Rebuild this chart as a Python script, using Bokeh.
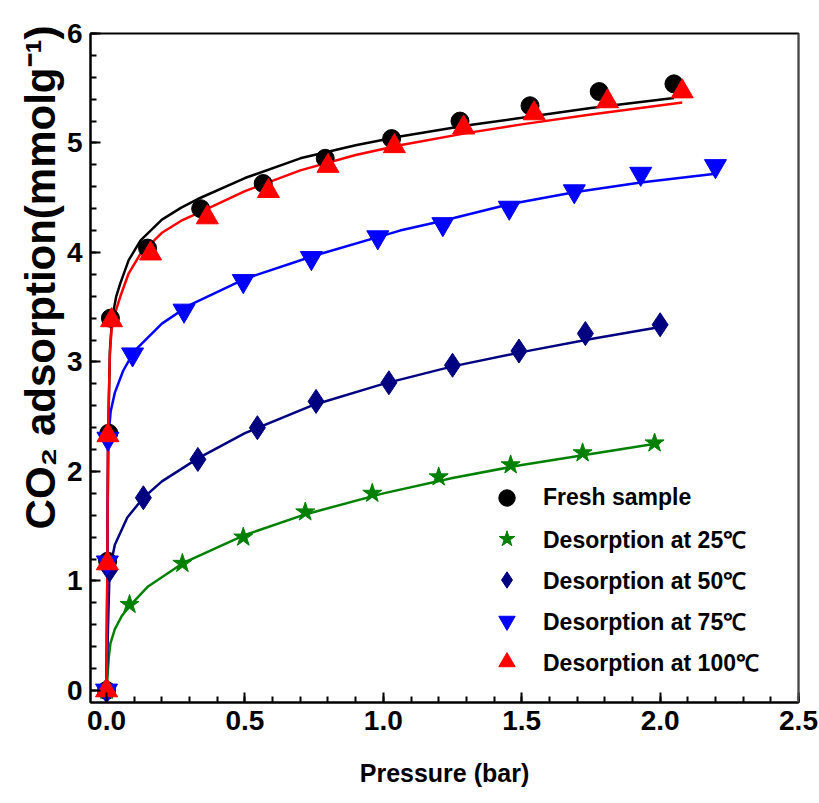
from bokeh.plotting import figure
from bokeh.models import (Range1d, SingleIntervalTicker, PrintfTickFormatter,
                          Legend, LegendItem, Title, Span)
from bokeh.embed import file_html
from bokeh.resources import INLINE

# Measured isotherm points (pressure in bar, uptake in mmol/g)
fresh_p = [0.0, 0.004, 0.008, 0.014, 0.148, 0.34, 0.566, 0.79, 1.03, 1.277, 1.53, 1.78, 2.05]
fresh_q = [0.0, 1.18, 2.35, 3.40, 4.04, 4.40, 4.63, 4.86, 5.04, 5.20, 5.34, 5.47, 5.54]

d25_p = [0.0, 0.083, 0.274, 0.494, 0.718, 0.96, 1.20, 1.46, 1.72, 1.98]
d25_q = [0.0, 0.785, 1.16, 1.40, 1.63, 1.80, 1.95, 2.06, 2.17, 2.26]

d50_p = [0.0, 0.011, 0.133, 0.33, 0.545, 0.757, 1.02, 1.25, 1.49, 1.73, 2.0]
d50_q = [0.0, 1.10, 1.76, 2.11, 2.40, 2.64, 2.81, 2.97, 3.10, 3.26, 3.34]

d75_p = [0.0, 0.003, 0.005, 0.094, 0.28, 0.494, 0.74, 0.98, 1.215, 1.455, 1.69, 1.93, 2.20]
d75_q = [0.0, 1.17, 2.30, 3.07, 3.47, 3.74, 3.95, 4.14, 4.26, 4.41, 4.56, 4.72, 4.79]

d100_p = [0.0, 0.003, 0.005, 0.018, 0.159, 0.364, 0.585, 0.80, 1.04, 1.29, 1.545, 1.81, 2.08]
d100_q = [0.0, 1.16, 2.33, 3.38, 3.99, 4.32, 4.56, 4.79, 4.97, 5.14, 5.27, 5.38, 5.47]

# Fitted isotherm curves
fresh_fit_p = [0.0, 0.003, 0.006, 0.012, 0.02, 0.035, 0.05, 0.08, 0.123, 0.2, 0.27, 0.34, 0.5, 0.7, 0.9, 1.06, 1.3, 1.5, 1.75, 2.05]
fresh_fit_q = [0.0, 1.2, 2.35, 3.1, 3.4, 3.6, 3.72, 3.93, 4.11, 4.30, 4.41, 4.50, 4.68, 4.86, 4.98, 5.06, 5.16, 5.23, 5.32, 5.41]

d25_fit_p = [0.0, 0.004, 0.008, 0.014, 0.03, 0.055, 0.083, 0.15, 0.274, 0.5, 0.72, 1.0, 1.25, 1.5, 1.75, 2.0]
d25_fit_q = [0.0, 0.15, 0.3, 0.43, 0.56, 0.68, 0.77, 0.95, 1.16, 1.42, 1.61, 1.80, 1.94, 2.06, 2.16, 2.26]

d50_fit_p = [0.0, 0.005, 0.011, 0.03, 0.075, 0.133, 0.2, 0.33, 0.5, 0.75, 1.0, 1.25, 1.5, 1.75, 2.0]
d50_fit_q = [0.0, 0.55, 1.10, 1.33, 1.58, 1.76, 1.91, 2.12, 2.35, 2.61, 2.80, 2.96, 3.09, 3.21, 3.32]

d75_fit_p = [0.0, 0.003, 0.006, 0.015, 0.03, 0.06, 0.1, 0.2, 0.3, 0.5, 0.75, 1.06, 1.2, 1.455, 1.69, 1.93, 2.2]
d75_fit_q = [0.0, 1.17, 2.3, 2.55, 2.72, 2.92, 3.10, 3.35, 3.52, 3.76, 3.97, 4.20, 4.28, 4.44, 4.55, 4.64, 4.72]

d100_fit_p = [0.0, 0.003, 0.005, 0.012, 0.018, 0.035, 0.05, 0.08, 0.123, 0.2, 0.27, 0.34, 0.5, 0.7, 0.9, 1.06, 1.3, 1.5, 1.75, 2.08]
d100_fit_q = [0.0, 1.16, 2.33, 3.06, 3.3, 3.48, 3.6, 3.81, 3.99, 4.18, 4.29, 4.37, 4.56, 4.75, 4.89, 4.98, 5.09, 5.17, 5.26, 5.37]

labels = ["Fresh sample", "Desorption at 25\u2103", "Desorption at 50\u2103",
          "Desorption at 75\u2103", "Desorption at 100\u2103"]
colors = ["#000000", "#008000", "#000080", "#0000FF", "#FF0000"]
markers = ["circle", "star", "diamond", "inverted_triangle", "triangle"]
sizes = [18, 20, 24, 22, 22]

FONT = "Liberation Sans"

p = figure(width=819, height=803, output_backend="svg", toolbar_location=None,
           x_range=Range1d(-0.058, 2.5), y_range=Range1d(-0.11, 6.0),
           min_border_left=90, min_border_right=21, min_border_top=33,
           min_border_bottom=101)
p.grid.visible = False
p.background_fill_color = "white"
p.border_fill_color = "white"
p.outline_line_color = "black"
p.outline_line_width = 2

p.xaxis.ticker = SingleIntervalTicker(interval=0.5, num_minor_ticks=5)
p.yaxis.ticker = SingleIntervalTicker(interval=1, num_minor_ticks=5)
p.xaxis.formatter = PrintfTickFormatter(format="%.1f")
p.yaxis.formatter = PrintfTickFormatter(format="%d")

for ax in (p.xaxis[0], p.yaxis[0]):
    ax.axis_line_width = 2
    ax.major_tick_line_width = 2
    ax.minor_tick_line_width = 2
    ax.major_tick_in = 10
    ax.major_tick_out = 0
    ax.minor_tick_in = 6
    ax.minor_tick_out = 0
    ax.major_label_text_font = FONT
    ax.major_label_text_font_style = "bold"
    ax.major_label_text_font_size = "28px"
    ax.major_label_text_color = "black"
    ax.major_label_standoff = 8

p.xaxis.axis_label = "Pressure (bar)"
p.xaxis.axis_label_text_font = FONT
p.xaxis.axis_label_text_font_style = "bold"
p.xaxis.axis_label_text_font_size = "25px"
p.xaxis.axis_label_text_color = "black"
p.xaxis.axis_label_standoff = 26

# y-axis title sits in the left panel, pinned near the top of the axis
p.add_layout(Title(text="CO\u2082 adsorption(mmolg\u207b\u00b9)", align="right", offset=-8,
                   text_font=FONT, text_font_style="bold", text_font_size="42px",
                   text_color="black", standoff=0), "left")

# right border drawn in grey
p.add_layout(Span(location=2.5, dimension="height", line_color="#909090", line_width=2))

fits = [(fresh_fit_p, fresh_fit_q), (d25_fit_p, d25_fit_q), (d50_fit_p, d50_fit_q),
        (d75_fit_p, d75_fit_q), (d100_fit_p, d100_fit_q)]
data = [(fresh_p, fresh_q), (d25_p, d25_q), (d50_p, d50_q), (d75_p, d75_q), (d100_p, d100_q)]

for (fx, fy), c in zip(fits, colors):
    p.line(fx, fy, line_color=c, line_width=2.5)

items = []
for (dx, dy), c, m, s, lab in zip(data, colors, markers, sizes, labels):
    r = p.scatter(dx, dy, marker=m, size=s, fill_color=c, line_color=c)
    items.append(LegendItem(label=lab, renderers=[r]))

legend = Legend(items=items, location=(396, 20), padding=0, spacing=0,
                glyph_width=41, glyph_height=41, label_height=41, label_standoff=16,
                label_text_font=FONT, label_text_font_style="bold",
                label_text_font_size="23px", label_text_color="black",
                border_line_color=None, background_fill_alpha=0)
p.add_layout(legend)

open("out.html", "w").write(file_html(p, INLINE))
